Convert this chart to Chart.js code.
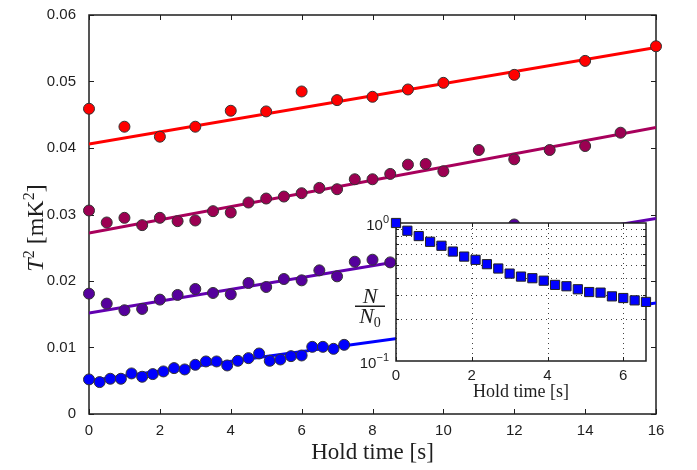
<!DOCTYPE html>
<html>
<head>
<meta charset="utf-8">
<script src="https://cdn.jsdelivr.net/npm/chart.js@4.4.0/dist/chart.umd.min.js"></script>
<style>
  body { margin: 0; background: #fff; }
  #wrap { position: relative; width: 697px; height: 470px; }
  #mainChart { position: absolute; left: 0; top: 0; }
  #insetChart { position: absolute; left: 340px; top: 205px; }
</style>
</head>
<body>
<div id="wrap">
  <canvas id="mainChart" width="697" height="470"></canvas>
  <canvas id="insetChart" width="320" height="200"></canvas>
</div>
<script>
// main plot data (T^2 in mK^2 vs hold time in s)
const redX = [0, 1, 2, 3, 4, 5, 6, 7, 8, 9, 10, 12, 14, 16];
const redY = [0.0459, 0.0432, 0.0417, 0.0432, 0.0456, 0.0455, 0.0485, 0.0472, 0.0477, 0.0488, 0.0498, 0.0510, 0.0531, 0.0553];

const magentaX = [0, 0.5, 1, 1.5, 2, 2.5, 3, 3.5, 4, 4.5, 5, 5.5, 6, 6.5, 7, 7.5, 8, 8.5, 9, 9.5, 10, 11, 12, 13, 14, 15];
const magentaY = [0.0306, 0.0288, 0.0295, 0.0284, 0.0295, 0.0290, 0.0291, 0.0305, 0.0303, 0.0318, 0.0324, 0.0327, 0.0332, 0.0340, 0.0338, 0.0353, 0.0353, 0.0361, 0.0375, 0.0376, 0.0365, 0.0397, 0.0383, 0.0397, 0.0403, 0.0423];

const purpleX = [0, 0.5, 1, 1.5, 2, 2.5, 3, 3.5, 4, 4.5, 5, 5.5, 6, 6.5, 7, 7.5, 8, 8.5, 9, 9.5, 10, 11, 12, 13, 14];
const purpleY = [0.0181, 0.0166, 0.0156, 0.0158, 0.0172, 0.0179, 0.0188, 0.0182, 0.0180, 0.0197, 0.0191, 0.0203, 0.0201, 0.0216, 0.0207, 0.0229, 0.0232, 0.0228, 0.0236, 0.0243, 0.0240, 0.0256, 0.0285, 0.0262, 0.0270];

const blueX = [0, 0.3, 0.6, 0.9, 1.2, 1.5, 1.8, 2.1, 2.4, 2.7, 3.0, 3.3, 3.6, 3.9, 4.2, 4.5, 4.8, 5.1, 5.4, 5.7, 6.0, 6.3, 6.6, 6.9, 7.2];
const blueY = [0.0052, 0.0048, 0.0053, 0.0053, 0.0061, 0.0056, 0.0060, 0.0064, 0.0069, 0.0067, 0.0074, 0.0079, 0.0079, 0.0073, 0.0080, 0.0084, 0.0091, 0.0080, 0.0082, 0.0087, 0.0088, 0.0101, 0.0101, 0.0098, 0.0104];

// linear fits, value at start and end of fitX
const fitX = [0, 16];
const redFit = [0.0406, 0.0551];
const magentaFit = [0.0272, 0.0431];
const purpleFit = [0.0152, 0.0294];
const blueFit = [0.0050, 0.0167];

// inset: N/N0 vs hold time
const insetX = [0, 0.3, 0.6, 0.9, 1.2, 1.5, 1.8, 2.1, 2.4, 2.7, 3.0, 3.3, 3.6, 3.9, 4.2, 4.5, 4.8, 5.1, 5.4, 5.7, 6.0, 6.3, 6.6];
const insetY = [1.0, 0.879, 0.804, 0.731, 0.684, 0.621, 0.571, 0.541, 0.503, 0.468, 0.430, 0.409, 0.398, 0.382, 0.356, 0.348, 0.331, 0.316, 0.313, 0.294, 0.286, 0.275, 0.268];

// ticks
const mainXTicks = [0, 2, 4, 6, 8, 10, 12, 14, 16];
const mainYTicks = [0, 0.01, 0.02, 0.03, 0.04, 0.05, 0.06];
const insetXTicks = [0, 2, 4, 6];
const insetYTicks = [0.1, 1];
const insetYMinor = [0.2, 0.3, 0.4, 0.5, 0.6, 0.7, 0.8, 0.9];

const SANS = '"Liberation Sans", Arial, sans-serif';
const SERIF = '"Liberation Serif", "Times New Roman", serif';
const INK = '#1e1e1e';

function pts(xs, ys) {
    return xs.map((x, i) => ({ x: x, y: ys[i] }));
}

function fixedTicks(list) {
    return function (scale) {
        scale.ticks = list.map(v => ({ value: v }));
    };
}

// draw a row of text pieces (for super/subscripts) centred on cx
function drawPieces(ctx, pieces, cx, baseY) {
    let total = 0;
    pieces.forEach(p => {
        ctx.font = p.font;
        p.w = ctx.measureText(p.text).width;
        total += p.w;
    });
    let x = cx - total / 2;
    ctx.textAlign = 'left';
    ctx.textBaseline = 'alphabetic';
    pieces.forEach(p => {
        ctx.font = p.font;
        ctx.fillText(p.text, x, baseY - (p.rise || 0));
        x += p.w;
    });
}

function pointSet(xs, ys, color) {
    return {
        data: pts(xs, ys),
        backgroundColor: color,
        borderColor: '#333',
        borderWidth: 1,
        pointRadius: 5.5,
        showLine: false,
        clip: false,
        order: 1
    };
}

function fitSet(ys, color) {
    return {
        data: pts(fitX, ys),
        borderColor: color,
        borderWidth: 3,
        pointRadius: 0,
        showLine: true,
        order: 2
    };
}

const mainFrame = {
    id: 'mainFrame',
    beforeDatasetsDraw(chart) {
        const ctx = chart.ctx, a = chart.chartArea;
        const xs = chart.scales.x, ys = chart.scales.y;
        ctx.save();
        ctx.strokeStyle = INK;
        ctx.lineWidth = 1;
        ctx.beginPath();
        mainXTicks.forEach(v => {
            const px = Math.round(xs.getPixelForValue(v)) + 0.5;
            ctx.moveTo(px, a.bottom); ctx.lineTo(px, a.bottom - 5);
            ctx.moveTo(px, a.top); ctx.lineTo(px, a.top + 5);
        });
        mainYTicks.forEach(v => {
            const py = Math.round(ys.getPixelForValue(v)) + 0.5;
            ctx.moveTo(a.left, py); ctx.lineTo(a.left + 5, py);
            ctx.moveTo(a.right, py); ctx.lineTo(a.right - 5, py);
        });
        ctx.stroke();
        ctx.lineWidth = 1.5;
        ctx.strokeRect(a.left, a.top, a.right - a.left, a.bottom - a.top);
        ctx.restore();
    },
    afterDraw(chart) {
        const ctx = chart.ctx, a = chart.chartArea;
        ctx.save();
        ctx.fillStyle = INK;
        drawPieces(ctx, [{ text: 'Hold time [s]', font: '23px ' + SERIF }], (a.left + a.right) / 2, 459);

        ctx.translate(43, 228);
        ctx.rotate(-Math.PI / 2);
        drawPieces(ctx, [
            { text: 'T', font: 'italic 24px ' + SERIF },
            { text: '2', font: '16px ' + SERIF, rise: 9 },
            { text: ' [mK', font: '24px ' + SERIF },
            { text: '2', font: '16px ' + SERIF, rise: 9 },
            { text: ']', font: '24px ' + SERIF }
        ], 0, 0);
        ctx.restore();
    }
};

new Chart(document.getElementById('mainChart').getContext('2d'), {
    type: 'scatter',
    data: {
        datasets: [
            pointSet(redX, redY, '#ff0000'),
            pointSet(magentaX, magentaY, '#9c0052'),
            pointSet(purpleX, purpleY, '#55009c'),
            pointSet(blueX, blueY, '#0000ff'),
            fitSet(redFit, '#ff0000'),
            fitSet(magentaFit, '#a8005c'),
            fitSet(purpleFit, '#6200b0'),
            fitSet(blueFit, '#0000ff')
        ]
    },
    options: {
        responsive: false,
        animation: false,
        layout: { padding: { left: 0, top: 15, right: 41, bottom: 0 } },
        plugins: { legend: { display: false }, tooltip: { enabled: false } },
        scales: {
            x: {
                type: 'linear',
                min: 0,
                max: 16,
                afterBuildTicks: fixedTicks(mainXTicks),
                afterFit(scale) { scale.height = 56; },
                grid: { display: false },
                border: { display: false },
                ticks: { color: INK, padding: 0, font: { family: SANS, size: 15 } }
            },
            y: {
                min: 0,
                max: 0.06,
                afterBuildTicks: fixedTicks(mainYTicks),
                afterFit(scale) { scale.width = 89; },
                grid: { display: false },
                border: { display: false },
                ticks: {
                    color: INK,
                    padding: 5,
                    font: { family: SANS, size: 15 },
                    callback: v => (v === 0 ? '0' : v.toFixed(2))
                }
            }
        }
    },
    plugins: [mainFrame]
});

// inset
const insetFrame = {
    id: 'insetFrame',
    beforeDraw(chart) {
        const ctx = chart.ctx, a = chart.chartArea;
        ctx.save();
        ctx.fillStyle = '#fff';
        ctx.fillRect(a.left, a.top, a.right - a.left, a.bottom - a.top);
        ctx.restore();
    },
    beforeDatasetsDraw(chart) {
        const ctx = chart.ctx, a = chart.chartArea;
        const xs = chart.scales.x, ys = chart.scales.y;
        ctx.save();
        ctx.strokeStyle = '#444';
        ctx.lineWidth = 1;
        ctx.setLineDash([1, 4]);
        ctx.beginPath();
        insetXTicks.forEach(v => {
            const px = Math.round(xs.getPixelForValue(v)) + 0.5;
            ctx.moveTo(px, a.top); ctx.lineTo(px, a.bottom);
        });
        insetYMinor.forEach(v => {
            const py = Math.round(ys.getPixelForValue(v)) + 0.5;
            ctx.moveTo(a.left, py); ctx.lineTo(a.right, py);
        });
        ctx.stroke();
        ctx.setLineDash([]);
        ctx.strokeStyle = INK;
        ctx.beginPath();
        insetXTicks.forEach(v => {
            const px = Math.round(xs.getPixelForValue(v)) + 0.5;
            ctx.moveTo(px, a.bottom); ctx.lineTo(px, a.bottom - 4);
            ctx.moveTo(px, a.top); ctx.lineTo(px, a.top + 4);
        });
        insetYMinor.forEach(v => {
            const py = Math.round(ys.getPixelForValue(v)) + 0.5;
            ctx.moveTo(a.left, py); ctx.lineTo(a.left + 3, py);
            ctx.moveTo(a.right, py); ctx.lineTo(a.right - 3, py);
        });
        ctx.stroke();
        ctx.lineWidth = 1.5;
        ctx.strokeRect(a.left, a.top, a.right - a.left, a.bottom - a.top);
        ctx.restore();
    },
    afterDraw(chart) {
        const ctx = chart.ctx, a = chart.chartArea;
        const ys = chart.scales.y;
        ctx.save();
        ctx.fillStyle = INK;
        // 10^n tick labels
        insetYTicks.forEach(v => {
            const py = ys.getPixelForValue(v);
            const e = String(Math.round(Math.log10(v))).replace('-', '\u2212');
            ctx.font = '15px ' + SANS;
            const w1 = ctx.measureText('10').width;
            ctx.font = '11px ' + SANS;
            const w2 = ctx.measureText(e).width;
            drawPieces(ctx, [
                { text: '10', font: '15px ' + SANS },
                { text: e, font: '11px ' + SANS, rise: 7 }
            ], a.left - 7 - (w1 + w2) / 2, py + 7);
        });
        // N / N0
        drawPieces(ctx, [{ text: 'N', font: 'italic 22px ' + SERIF }], 30, 98);
        ctx.fillRect(15, 100.5, 30, 1.5);
        drawPieces(ctx, [
            { text: 'N', font: 'italic 22px ' + SERIF },
            { text: '0', font: '14px ' + SERIF, rise: -4 }
        ], 30, 118);
        drawPieces(ctx, [{ text: 'Hold time [s]', font: '18px ' + SERIF }], (a.left + a.right) / 2, 192);
        ctx.restore();
    }
};

new Chart(document.getElementById('insetChart').getContext('2d'), {
    type: 'scatter',
    data: {
        datasets: [{
            data: pts(insetX, insetY),
            pointStyle: 'rect',
            pointRadius: 6.5,
            backgroundColor: '#0000ff',
            borderColor: '#222',
            borderWidth: 1,
            clip: false
        }]
    },
    options: {
        responsive: false,
        animation: false,
        layout: { padding: { left: 0, top: 18, right: 14, bottom: 0 } },
        plugins: { legend: { display: false }, tooltip: { enabled: false } },
        scales: {
            x: {
                type: 'linear',
                min: 0,
                max: 6.6,
                afterBuildTicks: fixedTicks(insetXTicks),
                afterFit(scale) { scale.height = 44; },
                grid: { display: false },
                border: { display: false },
                ticks: { color: INK, padding: -2, font: { family: SANS, size: 15 } }
            },
            y: {
                type: 'logarithmic',
                min: 0.1,
                max: 1,
                afterBuildTicks: fixedTicks(insetYTicks),
                afterFit(scale) { scale.width = 56; },
                grid: { display: false },
                border: { display: false },
                ticks: { display: false }
            }
        }
    },
    plugins: [insetFrame]
});
</script>
</body>
</html>
